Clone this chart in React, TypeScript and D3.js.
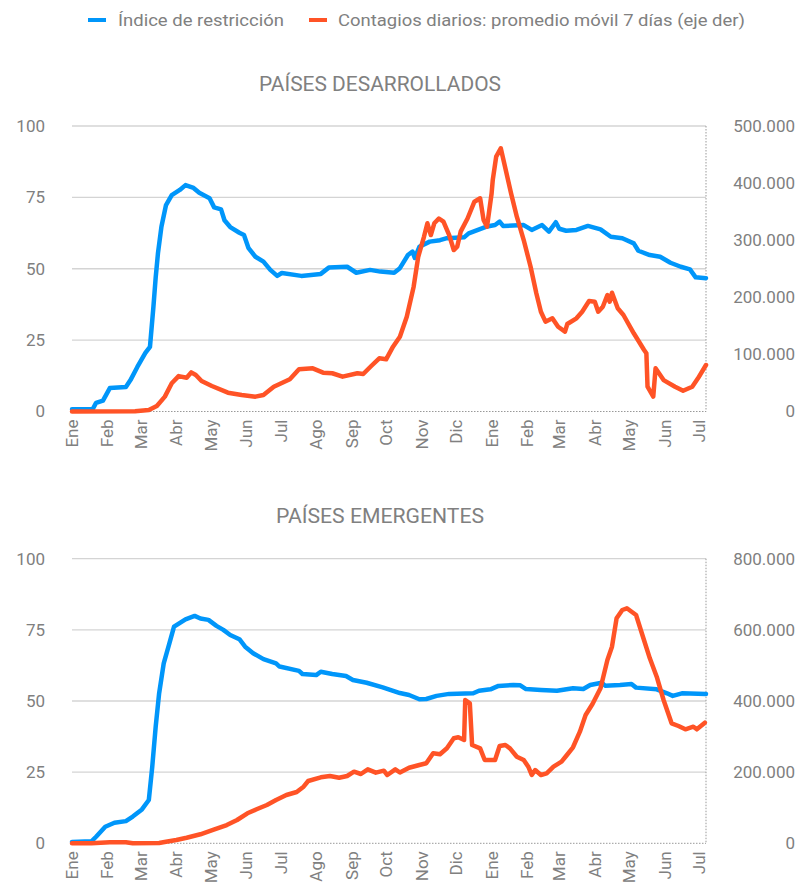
import React from "react";
import * as d3 from "d3";

const monthLabels = ["Ene","Feb","Mar","Abr","May","Jun","Jul","Ago","Sep","Oct","Nov","Dic","Ene","Feb","Mar","Abr","May","Jun","Jul"];
const monthDates = ["2020-01-01","2020-02-01","2020-03-01","2020-04-01","2020-05-01","2020-06-01","2020-07-01","2020-08-01","2020-09-01","2020-10-01","2020-11-01","2020-12-01","2021-01-01","2021-02-01","2021-03-01","2021-04-01","2021-05-01","2021-06-01","2021-07-01"];
const leftTicks = [0, 25, 50, 75, 100];
const devRightTicks = [0, 100000, 200000, 300000, 400000, 500000];
const emeRightTicks = [0, 200000, 400000, 600000, 800000];

const devIdxDates = ["2020-01-01","2020-01-19","2020-01-22","2020-01-28","2020-02-03","2020-02-17","2020-02-21","2020-02-27","2020-03-05","2020-03-09","2020-03-12","2020-03-14","2020-03-16","2020-03-19","2020-03-23","2020-03-28","2020-04-04","2020-04-09","2020-04-16","2020-04-21","2020-04-30","2020-05-04","2020-05-10","2020-05-13","2020-05-18","2020-05-26","2020-05-30","2020-06-03","2020-06-09","2020-06-16","2020-06-22","2020-06-28","2020-07-02","2020-07-19","2020-08-05","2020-08-12","2020-08-28","2020-09-05","2020-09-17","2020-09-26","2020-10-08","2020-10-13","2020-10-20","2020-10-24","2020-10-26","2020-10-30","2020-11-08","2020-11-17","2020-11-23","2020-12-08","2020-12-12","2020-12-27","2021-01-04","2021-01-08","2021-01-11","2021-01-29","2021-02-05","2021-02-14","2021-02-20","2021-02-26","2021-03-01","2021-03-07","2021-03-16","2021-03-26","2021-04-06","2021-04-15","2021-04-25","2021-05-05","2021-05-09","2021-05-19","2021-05-28","2021-06-06","2021-06-15","2021-06-23","2021-06-28","2021-07-07"];
const devIdxValues = [0.8,0.8,3,3.8,8.2,8.6,11,15.6,20.5,22.6,36.6,47,55.5,64.7,72.3,75.8,77.6,79.3,78.3,76.6,74.7,71.5,70.8,67,64.6,62.6,61.8,57.2,54.2,52.5,49.6,47.5,48.5,47.5,48.2,50.4,50.7,48.6,49.6,49,48.6,50.2,54.8,56,53.8,57.7,59.5,60,60.7,61,62.4,64.7,65.3,66.5,65,65.3,63.6,65.3,63,66.3,64,63.3,63.6,65,63.8,61.2,60.7,58.9,56.3,54.8,54.2,52.1,50.7,49.8,47,46.7];

const devCaseDates = ["2020-01-01","2020-02-25","2020-03-08","2020-03-15","2020-03-22","2020-03-28","2020-04-03","2020-04-10","2020-04-14","2020-04-18","2020-04-23","2020-05-02","2020-05-16","2020-05-28","2020-06-09","2020-06-16","2020-06-25","2020-07-09","2020-07-17","2020-07-29","2020-08-07","2020-08-15","2020-08-24","2020-09-06","2020-09-11","2020-09-18","2020-09-25","2020-10-01","2020-10-07","2020-10-13","2020-10-19","2020-10-25","2020-10-29","2020-11-03","2020-11-06","2020-11-09","2020-11-12","2020-11-16","2020-11-20","2020-11-25","2020-11-29","2020-12-02","2020-12-05","2020-12-11","2020-12-17","2020-12-22","2020-12-25","2020-12-28","2021-01-01","2021-01-02","2021-01-05","2021-01-09","2021-01-12","2021-01-18","2021-01-23","2021-01-29","2021-02-04","2021-02-09","2021-02-13","2021-02-17","2021-02-23","2021-02-28","2021-03-06","2021-03-08","2021-03-16","2021-03-21","2021-03-27","2021-04-01","2021-04-04","2021-04-08","2021-04-12","2021-04-14","2021-04-16","2021-04-21","2021-04-26","2021-05-05","2021-05-14","2021-05-16","2021-05-17","2021-05-22","2021-05-24","2021-05-31","2021-06-10","2021-06-17","2021-06-25","2021-06-30","2021-07-07"];
const devCaseValues = [0,500,2600,9600,26000,49400,62000,59000,68600,64000,53400,44700,33000,29000,26000,29000,43400,56400,74000,75600,68000,67000,61000,67000,65700,79700,93100,91400,113500,131000,166000,218600,271000,306000,329600,309000,329600,338000,332400,309000,282800,288600,315000,338000,367400,373400,335400,323600,382000,405400,446300,461000,434700,382000,341200,300300,253600,207000,174800,157300,163200,148500,139800,153200,163200,174800,193500,192300,174800,183500,204000,192300,208000,180700,169000,137000,107700,101900,43400,26000,75600,55000,43400,36400,43400,58100,81400];

const emeIdxDates = ["2020-01-01","2020-01-18","2020-01-22","2020-01-30","2020-02-07","2020-02-17","2020-02-23","2020-03-02","2020-03-08","2020-03-11","2020-03-14","2020-03-17","2020-03-21","2020-03-26","2020-03-30","2020-04-09","2020-04-17","2020-04-22","2020-04-29","2020-05-06","2020-05-12","2020-05-18","2020-05-26","2020-05-31","2020-06-07","2020-06-16","2020-06-27","2020-06-30","2020-07-17","2020-07-20","2020-08-01","2020-08-05","2020-08-15","2020-08-27","2020-09-02","2020-09-14","2020-09-28","2020-10-13","2020-10-21","2020-10-30","2020-11-05","2020-11-14","2020-11-25","2020-12-16","2020-12-21","2020-12-31","2021-01-07","2021-01-20","2021-01-26","2021-01-31","2021-02-13","2021-02-27","2021-03-13","2021-03-22","2021-03-28","2021-04-07","2021-04-10","2021-04-23","2021-05-03","2021-05-07","2021-05-25","2021-06-03","2021-06-08","2021-06-16","2021-07-07"];
const emeIdxValues = [0.5,0.7,2.3,5.8,7.2,7.8,9.4,11.9,15.2,26.9,41,52.7,63.2,70.3,76.1,78.7,79.9,79,78.5,76.4,75,73.2,71.7,69.1,66.8,64.7,63.2,62.1,60.6,59.5,59.1,60.3,59.5,58.8,57.4,56.4,54.8,52.8,52.1,50.6,50.7,51.8,52.5,52.7,53.6,54.1,55.3,55.6,55.5,54.2,53.9,53.6,54.5,54.2,55.6,56.4,55.4,55.6,56,54.7,54.1,52.7,51.8,52.7,52.5];

const emeCaseDates = ["2020-01-01","2020-01-18","2020-02-03","2020-02-17","2020-02-23","2020-03-17","2020-03-23","2020-04-01","2020-04-10","2020-04-22","2020-05-03","2020-05-15","2020-05-24","2020-06-02","2020-06-10","2020-06-19","2020-06-27","2020-07-06","2020-07-15","2020-07-21","2020-07-25","2020-08-05","2020-08-13","2020-08-21","2020-08-28","2020-09-03","2020-09-09","2020-09-15","2020-09-22","2020-09-29","2020-10-02","2020-10-09","2020-10-13","2020-10-21","2020-10-30","2020-11-05","2020-11-11","2020-11-17","2020-11-23","2020-11-29","2020-12-03","2020-12-08","2020-12-09","2020-12-13","2020-12-15","2020-12-22","2020-12-26","2021-01-04","2021-01-08","2021-01-13","2021-01-17","2021-01-23","2021-01-29","2021-02-02","2021-02-05","2021-02-08","2021-02-13","2021-02-18","2021-02-24","2021-03-03","2021-03-07","2021-03-13","2021-03-19","2021-03-24","2021-03-30","2021-04-06","2021-04-12","2021-04-16","2021-04-20","2021-04-25","2021-04-29","2021-05-07","2021-05-13","2021-05-19","2021-05-25","2021-05-31","2021-06-07","2021-06-13","2021-06-19","2021-06-26","2021-06-29","2021-07-06"];
const emeCaseValues = [0,0,2800,3000,0,1000,4500,9400,15700,25300,37400,51400,65500,84300,95600,107700,121700,135800,144200,159100,175100,185500,189200,184400,189200,201300,194800,208000,198500,204100,192000,208000,199000,212500,220100,224900,253000,250200,267000,295200,298000,290400,402800,393500,276300,267000,234100,234100,273500,276300,267000,243400,234100,215300,192000,206000,192000,196800,215300,229400,245400,269900,313700,360700,391600,435700,515300,552700,632500,655800,660600,641700,580700,520000,468300,402800,337300,329700,320400,327700,320400,339000];

const BLUE = "#0096FA";
const ORANGE = "#FF5326";
const TEXT = "#808080";
const FONT = "Roboto, 'DejaVu Sans', sans-serif";

const parse = d3.timeParse("%Y-%m-%d");
const locale = d3.formatLocale({ decimal: ",", thousands: ".", grouping: [3], currency: ["", ""] });
const fmt = locale.format(",");

const X0 = 72, X1 = 706;
const xScale = d3.scaleTime().domain([parse("2020-01-01")!, parse("2021-07-07")!]).range([X0, X1]);

type PanelProps = {
  title: string; titleY: number; titleLen: number; top: number; bottom: number; rightMax: number; rightTicks: number[];
  idxDates: string[]; idxValues: number[]; caseDates: string[]; caseValues: number[];
};

function Panel(p: PanelProps) {
  const yL = d3.scaleLinear().domain([0, 100]).range([p.bottom, p.top]);
  const yR = d3.scaleLinear().domain([0, p.rightMax]).range([p.bottom, p.top]);
  const idxLine = d3.line<number>().x((_, i) => xScale(parse(p.idxDates[i])!)).y((v) => yL(v));
  const caseLine = d3.line<number>().x((_, i) => xScale(parse(p.caseDates[i])!)).y((v) => yR(v));
  return (
    <g>
      <text x={380} y={p.titleY} textAnchor="middle" fontSize={19.5} fill={TEXT} fontFamily={FONT} textLength={p.titleLen} lengthAdjust="spacingAndGlyphs">{p.title}</text>
      {leftTicks.filter((t) => t > 0).map((t) => (
        <line key={t} x1={X0} x2={X1} y1={yL(t)} y2={yL(t)} stroke="#d4d4d4" strokeWidth={1.3} />
      ))}
      <line x1={X0} x2={X1} y1={p.bottom} y2={p.bottom} stroke="#999" strokeWidth={1} strokeDasharray="1.5,1.5" />
      <line x1={X1} x2={X1} y1={p.top} y2={p.bottom} stroke="#999" strokeWidth={1} strokeDasharray="1.5,1.5" />
      {leftTicks.map((t) => (
        <text key={t} x={45} y={yL(t)} dy="0.35em" textAnchor="end" fontSize={17} fill={TEXT} fontFamily={FONT}>{t}</text>
      ))}
      {p.rightTicks.map((t) => (
        <text key={t} x={795} y={yR(t)} dy="0.35em" textAnchor="end" fontSize={17} fill={TEXT} fontFamily={FONT}>{fmt(t)}</text>
      ))}
      {monthLabels.map((m, i) => {
        const x = xScale(parse(monthDates[i])!);
        const y = p.bottom + 8;
        return (
          <text key={i} transform={`translate(${x},${y}) rotate(-90)`} dy="0.35em" textAnchor="end" fontSize={17} fill={TEXT} fontFamily={FONT}>{m}</text>
        );
      })}
      <path d={idxLine(p.idxValues) || ""} fill="none" stroke={BLUE} strokeWidth={4.5} strokeLinejoin="round" strokeLinecap="round" />
      <path d={caseLine(p.caseValues) || ""} fill="none" stroke={ORANGE} strokeWidth={4.5} strokeLinejoin="round" strokeLinecap="round" />
    </g>
  );
}

export default function App() {
  return (
    <svg width={801} height={884} style={{ position: "absolute", left: 0, top: 0, background: "#fff" }}>
      <rect x={0} y={0} width={801} height={884} fill="#fff" />
      <line x1={88} x2={106} y1={20} y2={20} stroke={BLUE} strokeWidth={4} />
      <text x={118} y={26} fontSize={17} fill={TEXT} fontFamily={FONT} textLength={166} lengthAdjust="spacingAndGlyphs">Índice de restricción</text>
      <line x1={309} x2={327} y1={20} y2={20} stroke={ORANGE} strokeWidth={4} />
      <text x={338} y={26} fontSize={17} fill={TEXT} fontFamily={FONT} textLength={407} lengthAdjust="spacingAndGlyphs">Contagios diarios: promedio móvil 7 días (eje der)</text>
      <Panel title="PAÍSES DESARROLLADOS" titleY={91} titleLen={242} top={126} bottom={411.5} rightMax={500000} rightTicks={devRightTicks}
        idxDates={devIdxDates} idxValues={devIdxValues} caseDates={devCaseDates} caseValues={devCaseValues} />
      <Panel title="PAÍSES EMERGENTES" titleY={523} titleLen={208} top={558.7} bottom={843.3} rightMax={800000} rightTicks={emeRightTicks}
        idxDates={emeIdxDates} idxValues={emeIdxValues} caseDates={emeCaseDates} caseValues={emeCaseValues} />
    </svg>
  );
}
